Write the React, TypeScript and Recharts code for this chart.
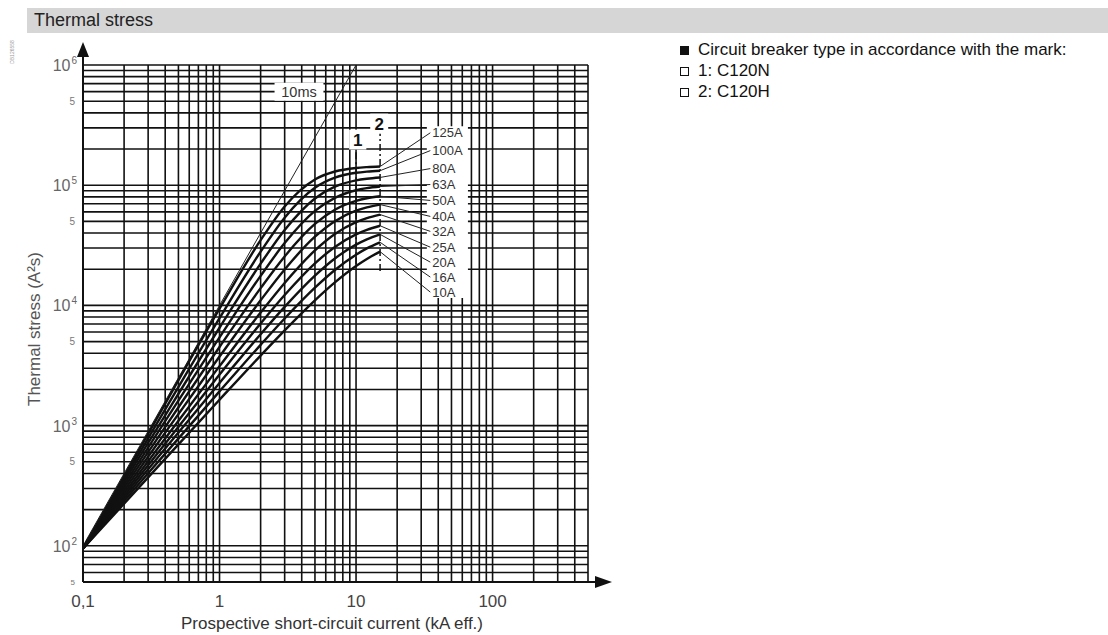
import React from "react";
import {
  LineChart,
  Line,
  XAxis,
  YAxis,
  CartesianGrid,
  ReferenceArea,
  ReferenceLine,
} from "recharts";

// ============================================================================
// Data
// ============================================================================

// prospective short-circuit current, kA eff.
const currents = [0.1, 0.3, 1, 2, 3, 5, 7, 10, 12, 15];

const ratings = ["10A", "16A", "20A", "25A", "32A", "40A", "50A", "63A", "80A", "100A", "125A"];

// thermal stress, A²s
const stress10A = [95, 371, 1642, 3826, 6199, 11030, 15540, 21270, 24340, 28000];
const stress16A = [95, 401, 1928, 4699, 7780, 14040, 19700, 26420, 29800, 33500];
const stress20A = [95, 433, 2263, 5763, 9730, 17700, 24570, 32040, 35470, 39000];
const stress25A = [95, 467, 2658, 7077, 12190, 22360, 30670, 39040, 42580, 46000];
const stress32A = [95, 505, 3124, 8715, 15380, 28660, 39230, 49300, 53300, 57000];
const stress40A = [95, 551, 3753, 11030, 19900, 37270, 50200, 61400, 65400, 69000];
const stress50A = [95, 601, 4510, 13920, 25570, 47600, 62500, 74000, 77900, 81000];
const stress63A = [95, 657, 5422, 17620, 32980, 61100, 78500, 90800, 94500, 97500];
const stress80A = [95, 717, 6517, 22250, 42360, 77500, 97200, 109800, 113300, 116000];
const stress100A = [95, 783, 7830, 28000, 53700, 95100, 115400, 126800, 129800, 132000];
const stress125A = [95, 855, 9395, 34900, 66600, 111600, 130000, 139200, 141400, 143000];

const curveValues = [
  stress10A, stress16A, stress20A, stress25A, stress32A, stress40A,
  stress50A, stress63A, stress80A, stress100A, stress125A,
];

// 10 ms reference line
const tenMsCurrent = [0.1, 10];
const tenMsStress = [100, 1000000];

// where each rating label sits (leader end)
const labelCurrent = 35;
const labelStress = [12900, 17200, 22900, 30500, 41300, 55000, 74700, 101300, 137500, 194000, 273000];

// breaking capacity marks: 1 = C120N (10 kA), 2 = C120H (15 kA)
const markCurrent = [10, 15];
const markLow = [22000, 19300];
const markHigh = [198000, 268000];

// grid / ticks
const xGrid = [
  0.1, 0.2, 0.3, 0.4, 0.5, 0.6, 0.7, 0.8, 0.9,
  1, 2, 3, 4, 5, 6, 7, 8, 9,
  10, 20, 30, 40, 50, 60, 70, 80, 90,
  100, 200, 300, 400, 500,
];
const yGrid = [
  50, 60, 70, 80, 90,
  100, 200, 300, 400, 500, 600, 700, 800, 900,
  1000, 2000, 3000, 4000, 5000, 6000, 7000, 8000, 9000,
  10000, 20000, 30000, 40000, 50000, 60000, 70000, 80000, 90000,
  100000, 200000, 300000, 400000, 500000, 600000, 700000, 800000, 900000,
  1000000,
];
const xLabelValues = [0.1, 1, 10, 100];
const xLabelTexts = ["0,1", "1", "10", "100"];
const yDecadeValues = [100, 1000, 10000, 100000, 1000000];
const yDecadeExps = ["2", "3", "4", "5", "6"];
const yFiveValues = [50, 500, 5000, 50000, 500000];

const legendItems = [
  { filled: true, text: "Circuit breaker type in accordance with the mark:" },
  { filled: false, text: "1: C120N" },
  { filled: false, text: "2: C120H" },
];

// ============================================================================
// Layout
// ============================================================================

const FONT = "'Liberation Sans', Arial, Helvetica, sans-serif";
const CHART_W = 640;
const CHART_H = 635;
const margin = { top: 65, right: 52, bottom: 23, left: 23 };
const PLOT_LEFT = 83;
const PLOT_RIGHT = CHART_W - margin.right;
const PLOT_TOP = margin.top;
const PLOT_BOTTOM = 582;

// ============================================================================
// Ticks
// ============================================================================

function XTick({ x, y, payload }: any) {
  const i = xLabelValues.indexOf(payload.value);
  if (i < 0) return null;
  return (
    <text
      x={x}
      y={y + 19}
      textAnchor="middle"
      dominantBaseline="central"
      fontSize={17}
      fontFamily={FONT}
      fill="#444"
    >
      {xLabelTexts[i]}
    </text>
  );
}

function YTick({ x, y, payload }: any) {
  const v = payload.value;
  const d = yDecadeValues.indexOf(v);
  if (d >= 0) {
    return (
      <text x={x - 6} y={y + 6} textAnchor="end" fontSize={16} fontFamily={FONT} fill="#666">
        10
        <tspan dx={1} dy={-7} fontSize={10}>
          {yDecadeExps[d]}
        </tspan>
      </text>
    );
  }
  const f = yFiveValues.indexOf(v);
  if (f >= 0) {
    return (
      <text
        x={x - 8}
        y={y}
        textAnchor="end"
        dominantBaseline="central"
        fontSize={f === 0 ? 8 : 10}
        fontFamily={FONT}
        fill="#777"
      >
        5
      </text>
    );
  }
  return null;
}

// ============================================================================
// Component
// ============================================================================

export default function App() {
  const rows = currents.map((I, i) => {
    const row: Record<string, number> = { I };
    ratings.forEach((r, k) => {
      row[r] = curveValues[k][i];
    });
    return row;
  });

  const tenMs = tenMsCurrent.map((I, i) => ({ I, t: tenMsStress[i] }));

  const last = currents.length - 1;
  const leaders = ratings.map((_, k) => [
    { I: currents[last], t: curveValues[k][last] },
    { I: labelCurrent, t: labelStress[k] },
  ]);

  return (
    <div
      style={{
        position: "absolute",
        left: 0,
        top: 0,
        width: 1108,
        height: 635,
        background: "#fff",
        fontFamily: FONT,
        overflow: "hidden",
      }}
    >
      {/* header bar */}
      <div
        style={{
          position: "absolute",
          left: 27,
          top: 8,
          width: 1081,
          height: 25,
          background: "#d6d6d6",
        }}
      />
      <div
        style={{
          position: "absolute",
          left: 34,
          top: 8,
          height: 25,
          lineHeight: "25px",
          fontSize: 18,
          color: "#222",
        }}
      >
        Thermal stress
      </div>

      {/* legend */}
      {legendItems.map((item, i) => (
        <div
          key={item.text}
          style={{
            position: "absolute",
            left: 680,
            top: 40 + i * 21,
            height: 20,
            lineHeight: "20px",
            fontSize: 17,
            color: "#111",
            whiteSpace: "nowrap",
            display: "flex",
            alignItems: "center",
          }}
        >
          <span
            style={{
              display: "inline-block",
              width: 9,
              height: 9,
              boxSizing: "border-box",
              border: "1px solid #111",
              background: item.filled ? "#111" : "#fff",
              marginRight: 9,
            }}
          />
          {item.text}
        </div>
      ))}

      <div style={{ position: "absolute", left: 0, top: 0 }}>
        <LineChart width={CHART_W} height={CHART_H} data={rows} margin={margin}>
          <CartesianGrid stroke="#111" strokeWidth={1.6} syncWithTicks />

          <XAxis
            dataKey="I"
            type="number"
            scale="log"
            domain={[0.1, 500]}
            allowDataOverflow
            ticks={xGrid}
            interval={0}
            tickLine={false}
            tickSize={0}
            tickMargin={0}
            height={30}
            axisLine={{ stroke: "#111", strokeWidth: 2 }}
            tick={<XTick />}
          />
          <YAxis
            type="number"
            scale="log"
            domain={[50, 1000000]}
            allowDataOverflow
            ticks={yGrid}
            interval={0}
            tickLine={false}
            tickSize={0}
            tickMargin={0}
            width={60}
            axisLine={{ stroke: "#111", strokeWidth: 2 }}
            tick={<YTick />}
          />

          {/* white knock-outs behind the annotations */}
          <ReferenceArea
            x1={2.53}
            x2={5.77}
            y1={505000}
            y2={711000}
            fill="#fff"
            fillOpacity={1}
            stroke="none"
            label={{ value: "10ms", position: "center", fontSize: 14.5, fill: "#333", fontFamily: FONT }}
          />
          <ReferenceArea
            x1={8.9}
            x2={11.9}
            y1={198000}
            y2={290000}
            fill="#fff"
            fillOpacity={1}
            stroke="none"
            label={{ value: "1", position: "center", fontSize: 17, fontWeight: 700, fill: "#111", fontFamily: FONT }}
          />
          <ReferenceArea
            x1={12.7}
            x2={17.2}
            y1={268000}
            y2={394000}
            fill="#fff"
            fillOpacity={1}
            stroke="none"
            label={{ value: "2", position: "center", fontSize: 17, fontWeight: 700, fill: "#111", fontFamily: FONT }}
          />
          <ReferenceArea
            x1={33}
            x2={66}
            y1={11500}
            y2={310000}
            fill="#fff"
            fillOpacity={1}
            stroke="none"
          />

          {markCurrent.map((c, i) => (
            <ReferenceLine
              key={`mark-${i}`}
              segment={[
                { x: c, y: markLow[i] },
                { x: c, y: markHigh[i] },
              ]}
              stroke="#111"
              strokeWidth={1.5}
              strokeDasharray="7 3 2 3"
            />
          ))}

          <Line
            data={tenMs}
            dataKey="t"
            stroke="#222"
            strokeWidth={1}
            dot={false}
            activeDot={false}
            isAnimationActive={false}
          />

          {ratings.map((r) => (
            <Line
              key={r}
              dataKey={r}
              type="monotone"
              stroke="#111"
              strokeWidth={2.4}
              dot={false}
              activeDot={false}
              isAnimationActive={false}
            />
          ))}

          {ratings.map((r, k) => (
            <Line
              key={`leader-${r}`}
              data={leaders[k]}
              dataKey="t"
              stroke="#222"
              strokeWidth={1}
              dot={false}
              activeDot={false}
              isAnimationActive={false}
              label={(p: any) =>
                p.index === 1 ? (
                  <text
                    key={`lbl-${r}`}
                    x={p.x + 2}
                    y={p.y}
                    dominantBaseline="central"
                    fontSize={13}
                    fontFamily={FONT}
                    fill="#333"
                  >
                    {r}
                  </text>
                ) : null
              }
            />
          ))}
        </LineChart>
      </div>

      {/* axis arrows and titles */}
      <svg
        width={CHART_W}
        height={CHART_H}
        style={{ position: "absolute", left: 0, top: 0, pointerEvents: "none" }}
      >
        <line x1={PLOT_LEFT} y1={PLOT_TOP} x2={PLOT_LEFT} y2={52} stroke="#111" strokeWidth={2} />
        <polygon
          points={`${PLOT_LEFT - 6},${57} ${PLOT_LEFT + 6},${57} ${PLOT_LEFT},${42}`}
          fill="#111"
        />
        <line x1={PLOT_RIGHT} y1={PLOT_BOTTOM} x2={600} y2={PLOT_BOTTOM} stroke="#111" strokeWidth={2} />
        <polygon
          points={`${595},${PLOT_BOTTOM - 6} ${595},${PLOT_BOTTOM + 6} ${612},${PLOT_BOTTOM}`}
          fill="#111"
        />
        <text
          x={332}
          y={623}
          textAnchor="middle"
          dominantBaseline="central"
          fontSize={17}
          fontFamily={FONT}
          fill="#333"
        >
          Prospective short-circuit current (kA eff.)
        </text>
        <text
          x={34}
          y={329}
          textAnchor="middle"
          dominantBaseline="central"
          fontSize={17}
          fontFamily={FONT}
          fill="#555"
          transform="rotate(-90 34 329)"
        >
          Thermal stress (A²s)
        </text>
        <text
          x={12}
          y={52}
          textAnchor="middle"
          dominantBaseline="central"
          fontSize={5}
          fontFamily={FONT}
          fill="#999"
          transform="rotate(-90 12 52)"
        >
          DB126558
        </text>
      </svg>
    </div>
  );
}
